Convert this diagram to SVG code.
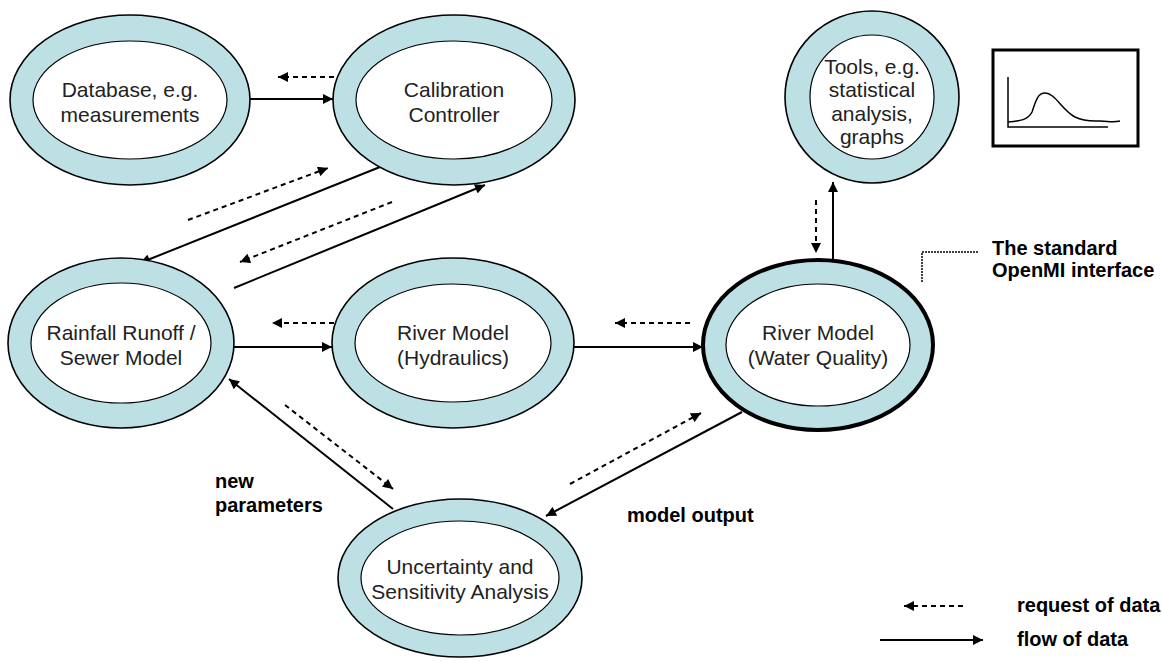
<svg xmlns="http://www.w3.org/2000/svg" width="1162" height="661" viewBox="0 0 1162 661">
<defs>
<style>
.ring{fill:#bce0e3;stroke:#000;stroke-width:1.6}
.ring-thick{fill:#bce0e3;stroke:#000;stroke-width:4}
.core{fill:#fff;stroke:#000;stroke-width:1.2}
.nt{font-family:"Liberation Sans",Arial,sans-serif;font-size:21px;fill:#222;text-anchor:middle}
.lb{font-family:"Liberation Sans",Arial,sans-serif;font-size:20px;font-weight:bold;fill:#000}
.sol{stroke:#000;stroke-width:2;fill:none}
.das{stroke:#000;stroke-width:2;fill:none;stroke-dasharray:5,4}
</style>
<marker id="ah" viewBox="0 0 10 10" refX="10" refY="5" markerWidth="6" markerHeight="5" orient="auto" markerUnits="strokeWidth">
<path d="M0,0 L10,5 L0,10 z" fill="#000"/>
</marker>
</defs>
<rect width="1162" height="661" fill="#fff"/>

<g id="connectors">
<line class="das" x1="343" y1="77" x2="278" y2="77" marker-end="url(#ah)"/>
<line class="sol" x1="250" y1="99" x2="333" y2="99" marker-end="url(#ah)"/>
<line class="das" x1="188" y1="220" x2="328" y2="168" marker-end="url(#ah)"/>
<line class="sol" x1="385" y1="165" x2="140" y2="263" marker-end="url(#ah)"/>
<line class="das" x1="392" y1="202" x2="240" y2="262" marker-end="url(#ah)"/>
<line class="sol" x1="234" y1="288" x2="485" y2="185" marker-end="url(#ah)"/>
<line class="das" x1="343" y1="323" x2="272" y2="323" marker-end="url(#ah)"/>
<line class="sol" x1="234" y1="347" x2="332" y2="347" marker-end="url(#ah)"/>
<line class="das" x1="690" y1="323" x2="615" y2="323" marker-end="url(#ah)"/>
<line class="sol" x1="574" y1="347" x2="703" y2="347" marker-end="url(#ah)"/>
<line class="das" x1="816" y1="200" x2="816" y2="253" marker-end="url(#ah)"/>
<line class="sol" x1="833" y1="260" x2="833" y2="182" marker-end="url(#ah)"/>
<line class="sol" x1="393" y1="509" x2="229" y2="379" marker-end="url(#ah)"/>
<line class="das" x1="285" y1="405" x2="393" y2="489" marker-end="url(#ah)"/>
<line class="das" x1="570" y1="484" x2="701" y2="413" marker-end="url(#ah)"/>
<line class="sol" x1="742" y1="412" x2="546" y2="516" marker-end="url(#ah)"/>
</g>

<g id="database">
<ellipse class="ring" cx="130" cy="100" rx="120" ry="85"/>
<ellipse class="core" cx="130" cy="100" rx="97" ry="59"/>
<text class="nt" x="130" y="97">Database, e.g.</text>
<text class="nt" x="130" y="122">measurements</text>
</g>

<g id="calibration">
<ellipse class="ring" cx="454" cy="100" rx="121" ry="85"/>
<ellipse class="core" cx="454" cy="100" rx="98" ry="59"/>
<text class="nt" x="454" y="97">Calibration</text>
<text class="nt" x="454" y="122">Controller</text>
</g>

<g id="tools">
<ellipse class="ring" cx="872" cy="97" rx="87" ry="86"/>
<ellipse class="core" cx="872" cy="97" rx="62" ry="62"/>
<text class="nt" x="872" y="74">Tools, e.g.</text>
<text class="nt" x="872" y="97">statistical</text>
<text class="nt" x="872" y="121">analysis,</text>
<text class="nt" x="872" y="144">graphs</text>
</g>

<g id="graph">
<rect x="993" y="50" width="145" height="96" fill="#fff" stroke="#000" stroke-width="3"/>
<path d="M1008,77 L1008,127 L1108,127" fill="none" stroke="#000" stroke-width="1.5"/>
<path d="M1008,122 C1020,121 1028,120 1032,112 C1036,100 1038,93 1045,93 C1055,93 1062,110 1075,117 C1085,122 1093,121 1100,121 C1108,121 1112,123 1120,121" fill="none" stroke="#000" stroke-width="1.5"/>
</g>

<g id="rainfall">
<ellipse class="ring" cx="121" cy="343" rx="113" ry="85"/>
<ellipse class="core" cx="121" cy="343" rx="90" ry="60"/>
<text class="nt" x="121" y="340">Rainfall Runoff /</text>
<text class="nt" x="121" y="365">Sewer Model</text>
</g>

<g id="hydraulics">
<ellipse class="ring" cx="453" cy="343" rx="121" ry="85"/>
<ellipse class="core" cx="453" cy="343" rx="98" ry="59"/>
<text class="nt" x="453" y="340">River Model</text>
<text class="nt" x="453" y="365">(Hydraulics)</text>
</g>

<g id="waterquality">
<ellipse class="ring-thick" cx="818" cy="345" rx="115" ry="85"/>
<ellipse class="core" cx="818" cy="345" rx="92" ry="61"/>
<text class="nt" x="818" y="340">River Model</text>
<text class="nt" x="818" y="365">(Water Quality)</text>
</g>

<g id="uncertainty">
<ellipse class="ring" cx="460" cy="578" rx="122" ry="79"/>
<ellipse class="core" cx="460" cy="578" rx="99" ry="57"/>
<text class="nt" x="460" y="574">Uncertainty and</text>
<text class="nt" x="460" y="599">Sensitivity Analysis</text>
</g>

<g id="openmi-label">
<polyline points="922,282 922,252 978,252" fill="none" stroke="#000" stroke-width="1.5" stroke-dasharray="2,1"/>
<text class="lb" x="992" y="255">The standard</text>
<text class="lb" x="992" y="277">OpenMI interface</text>
</g>

<g id="labels">
<text class="lb" x="215" y="488">new</text>
<text class="lb" x="215" y="512">parameters</text>
<text class="lb" x="627" y="522">model output</text>
</g>

<g id="legend">
<line class="das" x1="963" y1="606" x2="904" y2="606" marker-end="url(#ah)"/>
<text class="lb" x="1017" y="612">request of data</text>
<line class="sol" x1="880" y1="640" x2="983" y2="640" marker-end="url(#ah)"/>
<text class="lb" x="1017" y="646">flow of data</text>
</g>
</svg>
